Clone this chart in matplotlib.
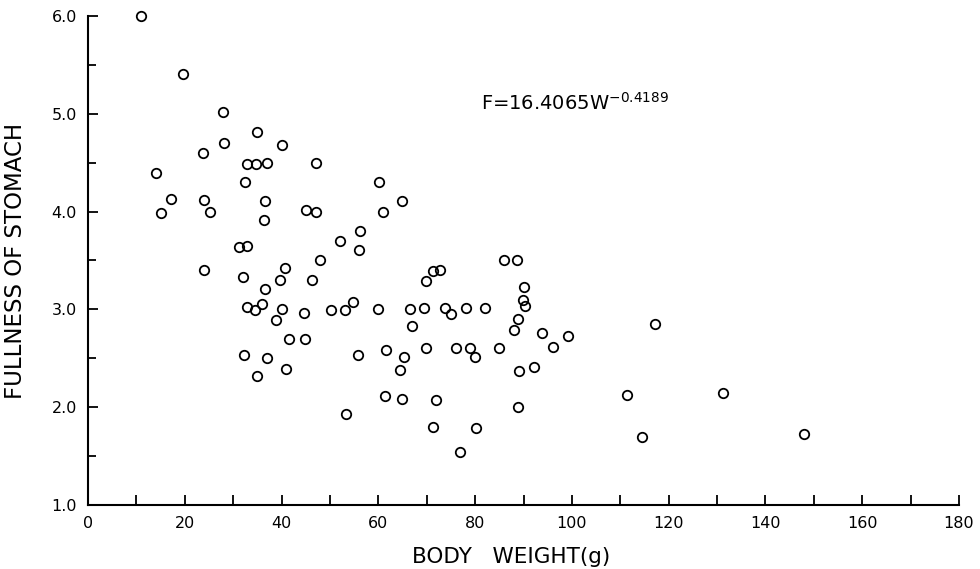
import numpy as np
import matplotlib
matplotlib.use('Agg')
import matplotlib.pyplot as plt
from matplotlib.ticker import MultipleLocator, FormatStrFormatter

# Body weight (g) and fullness of stomach
weight = [10.9, 19.7, 28.0, 28.2, 34.9, 40.0, 23.8, 14.0, 32.8, 34.8,
          36.9, 47.1, 32.4, 17.2, 24.0, 36.6, 15.0, 25.3, 36.4, 45.0,
          47.2, 31.3, 32.8, 47.9, 24.0, 32.1, 40.8, 39.7, 46.2, 36.6,
          32.9, 34.6, 36.0, 40.1, 38.9, 44.6, 50.2, 41.5, 44.8, 32.2,
          36.9, 41.0, 35.0, 56.3, 52.1, 56.1, 53.2, 54.8, 59.9, 66.6,
          69.4, 73.8, 75.1, 78.1, 82.0, 67.0, 55.8, 61.5, 65.4, 64.5,
          69.9, 76.0, 79.0, 80.0, 84.9, 86.0, 88.7, 90.2, 89.9, 90.3,
          88.8, 88.1, 93.9, 99.1, 96.1, 89.0, 92.1, 117.2, 111.4, 114.4,
          61.3, 64.9, 72.0, 88.8, 53.3, 71.3, 80.1, 76.9, 71.3, 72.7,
          69.8, 60.1, 64.9, 61.0, 131.2, 148.0]
fullness = [6.00, 5.41, 5.02, 4.70, 4.81, 4.68, 4.60, 4.39, 4.49, 4.49,
            4.50, 4.50, 4.30, 4.13, 4.12, 4.11, 3.99, 4.00, 3.91, 4.02,
            4.00, 3.64, 3.65, 3.51, 3.40, 3.33, 3.42, 3.30, 3.30, 3.21,
            3.02, 2.99, 3.06, 3.00, 2.89, 2.96, 2.99, 2.70, 2.70, 2.53,
            2.50, 2.39, 2.32, 3.80, 3.70, 3.61, 2.99, 3.08, 3.00, 3.00,
            3.01, 3.01, 2.95, 3.01, 3.01, 2.83, 2.53, 2.58, 2.51, 2.38,
            2.61, 2.61, 2.61, 2.51, 2.61, 3.51, 3.51, 3.23, 3.10, 3.03,
            2.90, 2.79, 2.76, 2.73, 2.62, 2.37, 2.41, 2.85, 2.12, 1.70,
            2.11, 2.08, 2.07, 2.00, 1.93, 1.80, 1.79, 1.54, 3.39, 3.40,
            3.29, 4.30, 4.11, 4.00, 2.14, 1.73]

x_ticks = [0, 20, 40, 60, 80, 100, 120, 140, 160, 180]
y_ticks = [1.0, 2.0, 3.0, 4.0, 5.0, 6.0]

fig = plt.figure(figsize=(9.8, 5.69), dpi=100)
ax = fig.add_axes([0.0898, 0.1125, 0.8888, 0.8594])

ax.plot(weight, fullness, 'o', mfc='none', mec='black', ms=6.8, mew=1.3,
        clip_on=False)

ax.set_xlim(0, 180)
ax.set_ylim(1, 6)
ax.set_xticks(x_ticks)
ax.set_yticks(y_ticks)
ax.xaxis.set_minor_locator(MultipleLocator(10))
ax.yaxis.set_minor_locator(MultipleLocator(0.5))
ax.yaxis.set_major_formatter(FormatStrFormatter('%.1f'))

for s in ['top', 'right']:
    ax.spines[s].set_visible(False)
for s in ['left', 'bottom']:
    ax.spines[s].set_linewidth(1.5)

ax.tick_params(axis='both', which='both', direction='in', width=1.3,
               labelsize=11.5, colors='black')
ax.tick_params(axis='x', which='both', length=7, pad=8)
ax.tick_params(axis='y', which='major', length=7.5, pad=8)
ax.tick_params(axis='y', which='minor', length=5.5)

ax.set_xlabel('BODY   WEIGHT(g)', fontsize=15.5)
ax.set_ylabel('FULLNESS OF STOMACH', fontsize=16.5)
ax.xaxis.set_label_coords(0.486, -0.086)
ax.yaxis.set_label_coords(-0.070, 0.5)

ax.text(81.2, 5.04, r'F=16.4065W$^{-0.4189}$', fontsize=14,
        ha='left', va='baseline')

plt.savefig('out.png', dpi=100)
